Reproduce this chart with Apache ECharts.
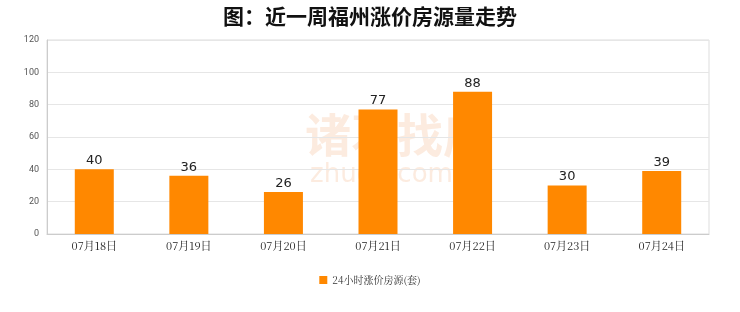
<!DOCTYPE html>
<html><head><meta charset="utf-8">
<script src="https://cdn.jsdelivr.net/npm/echarts@6/dist/echarts.min.js"></script>
<style>html,body{margin:0;padding:0;background:#fff}#c{width:740px;height:312px}</style>
</head><body><div id="c"></div>
<script>
const titleText = "图：近一周福州涨价房源量走势";
const categories = ["07月18日","07月19日","07月20日","07月21日","07月22日","07月23日","07月24日"];
const seriesName = "24小时涨价房源(套)";
const values = [40, 36, 26, 77, 88, 30, 39];
const yMin = 0, yMax = 120, yStep = 20;

const chart = echarts.init(document.getElementById('c'));
chart.setOption({
  backgroundColor: '#fff',
  animation: false,
  title: {
    text: titleText, left: 'center', top: 1,
    textStyle: {fontSize: 21, fontWeight: 'bold', color: '#111', fontFamily: '"Noto Sans CJK SC", sans-serif'}
  },
  graphic: [
    {type: 'text', left: 305, top: 112, z: -10, style: {text: '诸葛找房', fontSize: 46, fontWeight: 'bold', fill: 'rgba(245,190,150,0.3)', fontFamily: '"Noto Sans CJK SC", sans-serif'}},
    {type: 'text', left: 310, top: 162, z: -10, style: {text: 'zhuge.com', fontSize: 26, fill: 'rgba(245,190,150,0.3)', fontFamily: 'DejaVu Sans, sans-serif'}}
  ],
  legend: {
    bottom: 22, left: 'center', itemWidth: 8, itemHeight: 8, itemGap: 10,
    icon: 'rect',
    textStyle: {fontSize: 10, color: '#333', fontFamily: '"Noto Serif CJK SC", "Noto Sans CJK SC", serif'},
    data: [seriesName]
  },
  grid: {left: 47, right: 31, top: 40, bottom: 78, show: true, borderColor: '#ddd', borderWidth: 1},
  xAxis: {
    type: 'category', data: categories,
    axisLine: {lineStyle: {color: '#ccc'}},
    axisTick: {show: false},
    axisLabel: {fontSize: 11, color: '#222', margin: 6, fontFamily: '"Noto Serif CJK SC", "Noto Sans CJK SC", serif'}
  },
  yAxis: {
    type: 'value', min: yMin, max: yMax, interval: yStep,
    axisLine: {show: true, lineStyle: {color: '#ccc'}},
    axisTick: {show: false},
    splitLine: {lineStyle: {color: '#e6e6e6'}},
    axisLabel: {fontSize: 9, color: '#555', margin: 8, fontFamily: 'Roboto, sans-serif'}
  },
  series: [{
    name: seriesName, type: 'bar', data: values, barWidth: 39,
    itemStyle: {color: '#FF8800'},
    label: {show: true, position: 'top', fontSize: 13, color: '#222', distance: 2, fontFamily: 'DejaVu Sans, sans-serif'}
  }]
});
</script></body></html>
